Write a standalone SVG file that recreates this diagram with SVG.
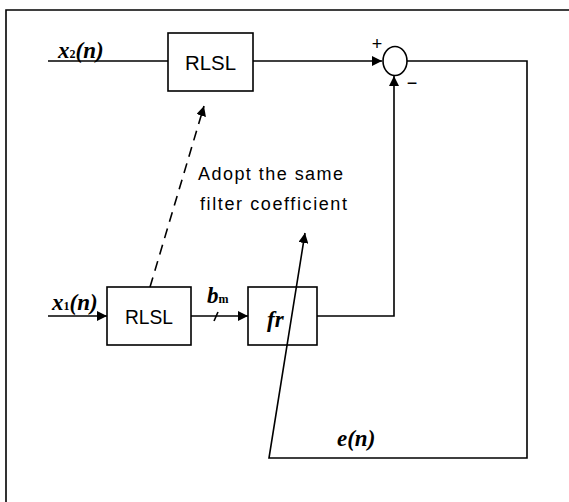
<svg xmlns="http://www.w3.org/2000/svg" width="569" height="502" viewBox="0 0 569 502">
<defs>
<marker id="ah" viewBox="0 0 10 10" refX="10" refY="5" markerWidth="10" markerHeight="10" markerUnits="userSpaceOnUse" orient="auto">
<path d="M0,0 L10,5 L0,10 Z" fill="#000"/>
</marker>
</defs>
<style>
.ln{stroke:#000;stroke-width:1.6;fill:none}
.box{stroke:#000;stroke-width:1.6;fill:none}
.lbl{font-family:"Liberation Sans",Arial,sans-serif;font-size:21px;fill:#000}
.var{font-family:"Liberation Serif","Times New Roman",serif;font-style:italic;font-weight:bold;font-size:23px;fill:#000}
.sub{font-size:12px;font-style:normal;font-weight:bold}
.note{font-family:"Liberation Sans",Arial,sans-serif;font-size:18px;fill:#000}
</style>
<rect width="569" height="502" fill="#fff"/>
<g id="frame">
<path class="ln" d="M6,502 V10 H569"/>
</g>
<g id="rlsl-top">
<rect class="box" x="168" y="33" width="85" height="58"/>
<text class="lbl" x="185" y="70" textLength="51" lengthAdjust="spacingAndGlyphs">RLSL</text>
</g>
<g id="sum">
<ellipse class="box" cx="395" cy="61" rx="12" ry="14.5"/>
<text class="note" x="377" y="50" text-anchor="middle" font-size="16">+</text>
<text class="note" x="412" y="89" text-anchor="middle" font-size="16">−</text>
</g>
<g id="rlsl-bottom">
<rect class="box" x="107" y="287" width="84" height="58"/>
<text class="lbl" x="125" y="324" textLength="48" lengthAdjust="spacingAndGlyphs">RLSL</text>
</g>
<g id="fr">
<rect class="box" x="248" y="287" width="69" height="58"/>
<text class="var" x="267" y="327" font-size="25">fr</text>
</g>
<g id="connectors">
<path class="ln" d="M48,61 H168"/>
<path class="ln" d="M253,61 H382" marker-end="url(#ah)"/>
<path class="ln" d="M407,61 H527 V458 H269 L305,233" marker-end="url(#ah)"/>
<path class="ln" d="M317,316 H394 V76" marker-end="url(#ah)"/>
<path class="ln" d="M48,316 H107" marker-end="url(#ah)"/>
<path class="ln" d="M191,316 H248" marker-end="url(#ah)"/>
<path class="ln" d="M214,321 L218,312"/>
<path class="ln" d="M150,287 L204,106" stroke-dasharray="10,7" marker-end="url(#ah)"/>
</g>
<g id="labels">
<text class="var" x="58" y="58">x<tspan class="sub">2</tspan><tspan>(n)</tspan></text>
<text class="var" x="52" y="310">x<tspan class="sub">1</tspan><tspan>(n)</tspan></text>
<text class="var" x="207" y="303" font-size="20">b<tspan class="sub" font-size="13">m</tspan></text>
<text class="var" x="337" y="446" font-size="21">e(n)</text>
<text class="note" x="198" y="180" textLength="145" lengthAdjust="spacing">Adopt the same</text>
<text class="note" x="200" y="210" textLength="147" lengthAdjust="spacing">filter coefficient</text>
</g>
</svg>
